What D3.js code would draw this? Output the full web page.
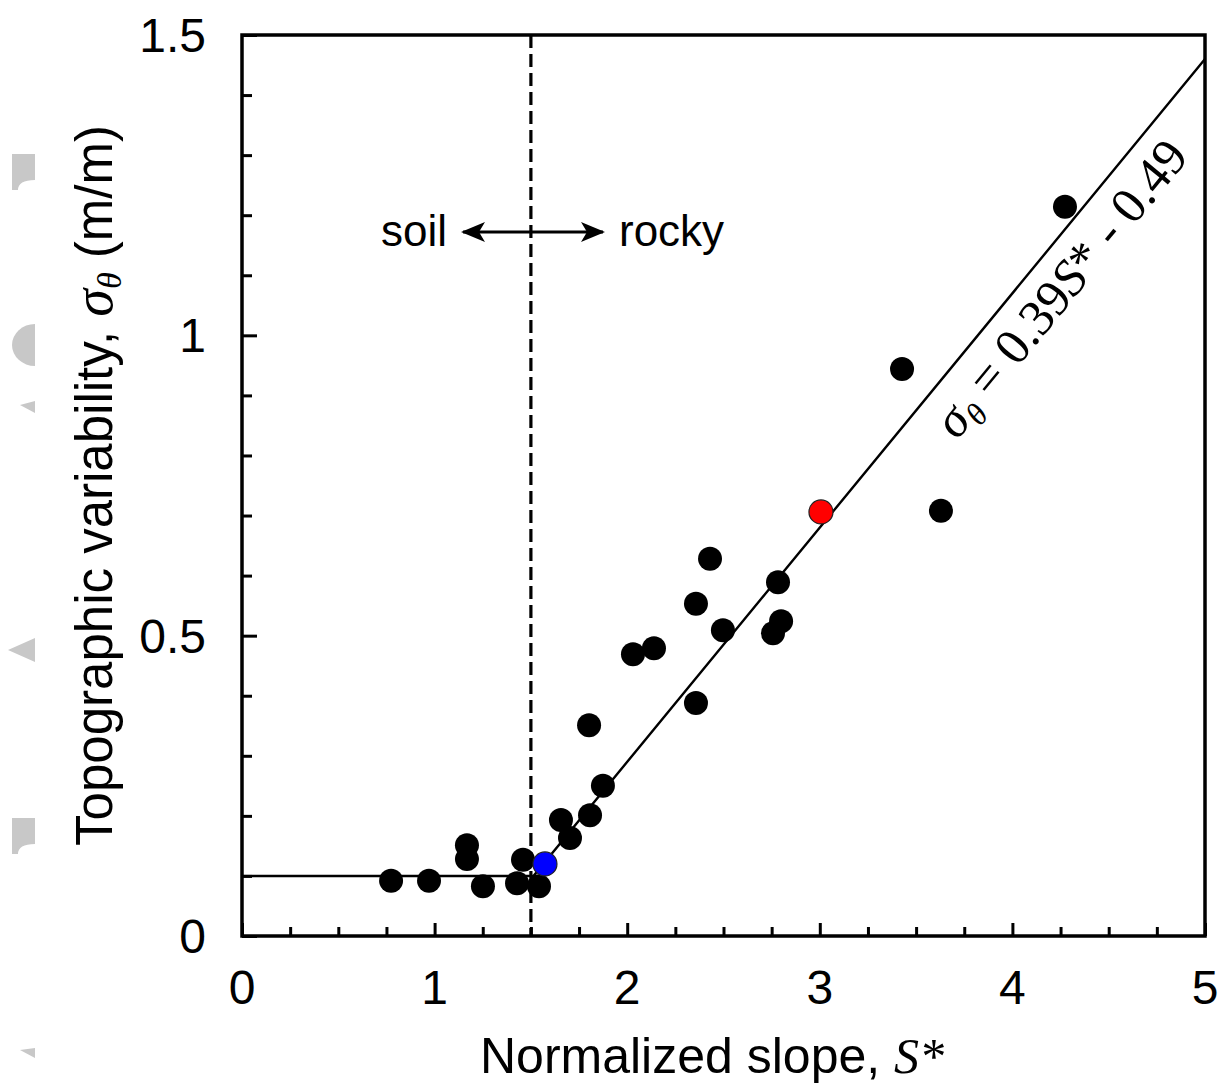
<!DOCTYPE html>
<html>
<head>
<meta charset="utf-8">
<script src="https://cdn.jsdelivr.net/npm/d3@7"></script>
<style>
  body { margin: 0; background: #fff; }
  svg text { font-family: "Liberation Sans", Arial, sans-serif; fill: #000; }
  .serif { font-family: "Liberation Serif", "Times New Roman", serif; }
</style>
</head>
<body>
<div id="chart"></div>
<script>
// normalized slope S* and topographic variability sigma_theta
const slopeX = [0.774, 0.971, 1.168, 1.168, 1.251, 1.428, 1.459, 1.542, 1.656, 1.703,
                1.807, 1.802, 1.874, 2.030, 2.139, 2.357, 2.357, 2.430, 2.497, 2.757,
                2.799, 2.783, 3.427, 3.629, 4.273];
const sigmaY = [0.092, 0.092, 0.151, 0.128, 0.083, 0.088, 0.127, 0.083, 0.193, 0.163,
                0.201, 0.351, 0.250, 0.469, 0.479, 0.388, 0.553, 0.628, 0.509, 0.504,
                0.524, 0.589, 0.944, 0.708, 1.214];
// highlighted sites
const specialX = [1.573, 3.006];
const specialY = [0.120, 0.706];
const specialColor = ["#0000ff", "#ff0000"];
// piecewise fit: flat 0.1, then 0.39 S* - 0.49
const fitX = [0, 1.513, 5];
const fitY = [0.1, 0.1, 1.46];
const threshold = 1.5;
const xTicks = [0, 1, 2, 3, 4, 5];
const yTicks = [0, 0.5, 1, 1.5];
const yTickLabels = ["0", "0.5", "1", "1.5"];

const W = 1227, H = 1086;
const mLeft = 242, mRight = 1205, mTop = 35, mBottom = 936;

const svg = d3.select("#chart").append("svg")
    .attr("width", W)
    .attr("height", H);

// faint grey fragments on the left edge
const grey = "#c8c8c8";
const frag = svg.append("g").attr("fill", grey);
frag.append("path").attr("d", "M12,154 L35,154 L35,180 Q18,180 18,190 L12,190 Z");
frag.append("path").attr("d", "M35,324 A23,21 0 0,0 35,366 Z");
frag.append("path").attr("d", "M20,405 L35,401 L35,413 Z");
frag.append("path").attr("d", "M8,650 L35,638 L35,662 Z");
frag.append("path").attr("d", "M12,818 L35,818 L35,844 Q18,844 18,854 L12,854 Z");
frag.append("path").attr("d", "M20,1050 L35,1048 L35,1058 Z");

const x = d3.scaleLinear().domain([0, 5]).range([mLeft, mRight]);
const y = d3.scaleLinear().domain([0, 1.5]).range([mBottom, mTop]);

// minor + major ticks, inside
const xAxis = d3.axisBottom(x).tickValues(d3.range(0, 5.01, 0.25))
    .tickSize(-9).tickFormat("");
svg.append("g").attr("transform", `translate(0,${mBottom})`).call(xAxis)
    .call(g => g.select(".domain").remove())
    .call(g => g.selectAll(".tick line").attr("stroke-width", 3)
        .attr("y2", d => Number.isInteger(d) ? -13 : -9));

const yAxis = d3.axisLeft(y).tickValues(d3.range(0, 1.51, 0.1))
    .tickSize(-10).tickFormat("");
svg.append("g").attr("transform", `translate(${mLeft},0)`).call(yAxis)
    .call(g => g.select(".domain").remove())
    .call(g => g.selectAll(".tick line").attr("stroke-width", 3)
        .attr("x2", d => Math.abs(d * 2 - Math.round(d * 2)) < 1e-6 ? 15 : 10));

// frame
svg.append("rect")
    .attr("x", mLeft).attr("y", mTop)
    .attr("width", mRight - mLeft).attr("height", mBottom - mTop)
    .attr("fill", "none").attr("stroke", "#000").attr("stroke-width", 3.5);

// tick labels
svg.append("g").selectAll("text").data(xTicks).join("text")
    .attr("x", d => x(d)).attr("y", 1004)
    .attr("text-anchor", "middle")
    .attr("font-size", 48)
    .text(d => d);

svg.append("g").selectAll("text").data(yTicks).join("text")
    .attr("x", 206).attr("y", d => y(d) + 17)
    .attr("text-anchor", "end")
    .attr("font-size", 48)
    .text((d, i) => yTickLabels[i]);

// threshold
svg.append("line")
    .attr("x1", x(threshold)).attr("x2", x(threshold))
    .attr("y1", mTop).attr("y2", mBottom)
    .attr("stroke", "#000").attr("stroke-width", 3.2)
    .attr("stroke-dasharray", "13,6");

// fit line
const line = d3.line().x(d => x(d[0])).y(d => y(d[1]));
svg.append("path")
    .datum(fitX.map((v, i) => [v, fitY[i]]))
    .attr("d", line)
    .attr("fill", "none").attr("stroke", "#000").attr("stroke-width", 2.4);

// points
svg.append("g").selectAll("circle").data(slopeX).join("circle")
    .attr("cx", d => x(d))
    .attr("cy", (d, i) => y(sigmaY[i]))
    .attr("r", 12)
    .attr("fill", "#000");

svg.append("g").selectAll("circle").data(specialX).join("circle")
    .attr("cx", d => x(d))
    .attr("cy", (d, i) => y(specialY[i]))
    .attr("r", 12)
    .attr("fill", (d, i) => specialColor[i])
    .attr("stroke", "#222").attr("stroke-width", 1.2);

// soil / rocky arrow
const defs = svg.append("defs");
defs.append("marker")
    .attr("id", "head")
    .attr("viewBox", "0 0 24 20")
    .attr("refX", 22).attr("refY", 10)
    .attr("markerWidth", 24).attr("markerHeight", 20)
    .attr("markerUnits", "userSpaceOnUse")
    .attr("orient", "auto-start-reverse")
    .append("path").attr("d", "M0,0 L24,10 L0,20 L6,10 Z").attr("fill", "#000");

svg.append("line")
    .attr("x1", 463).attr("x2", 603).attr("y1", 232).attr("y2", 232)
    .attr("stroke", "#000").attr("stroke-width", 3.2)
    .attr("marker-start", "url(#head)").attr("marker-end", "url(#head)");

svg.append("text").attr("x", 447).attr("y", 246).attr("text-anchor", "end")
    .attr("font-size", 44).text("soil");
svg.append("text").attr("x", 619).attr("y", 246)
    .attr("font-size", 44).text("rocky");

// equation along the fit line
const ang = Math.atan2(y(fitY[1]) - y(fitY[2]), x(fitX[2]) - x(fitX[1])) * 180 / Math.PI;
const eq = svg.append("text")
    .attr("class", "serif")
    .attr("font-size", 51)
    .attr("transform", `translate(957,441) rotate(${-ang})`);
eq.append("tspan").attr("font-style", "italic").text("σ");
eq.append("tspan").attr("font-style", "italic").attr("font-size", 32).attr("dy", 9).text("θ");
eq.append("tspan").attr("dy", -9).text(" = 0.39");
eq.append("tspan").attr("font-style", "italic").text("S");
eq.append("tspan").text("* - 0.49");

// axis titles
const xt = svg.append("text").attr("x", 712).attr("y", 1073)
    .attr("text-anchor", "middle").attr("font-size", 50);
xt.append("tspan").text("Normalized slope, ");
xt.append("tspan").attr("class", "serif").attr("font-style", "italic").text("S*");

const yt = svg.append("text")
    .attr("transform", `translate(112,${(mTop + mBottom) / 2}) rotate(-90)`)
    .attr("text-anchor", "middle").attr("font-size", 51);
yt.append("tspan").text("Topographic variability, ");
yt.append("tspan").attr("class", "serif").attr("font-style", "italic").attr("font-size", 56).text("σ");
yt.append("tspan").attr("class", "serif").attr("font-style", "italic").attr("font-size", 34).attr("dy", 9).text("θ");
yt.append("tspan").attr("dy", -9).text(" (m/m)");
</script>
</body>
</html>
